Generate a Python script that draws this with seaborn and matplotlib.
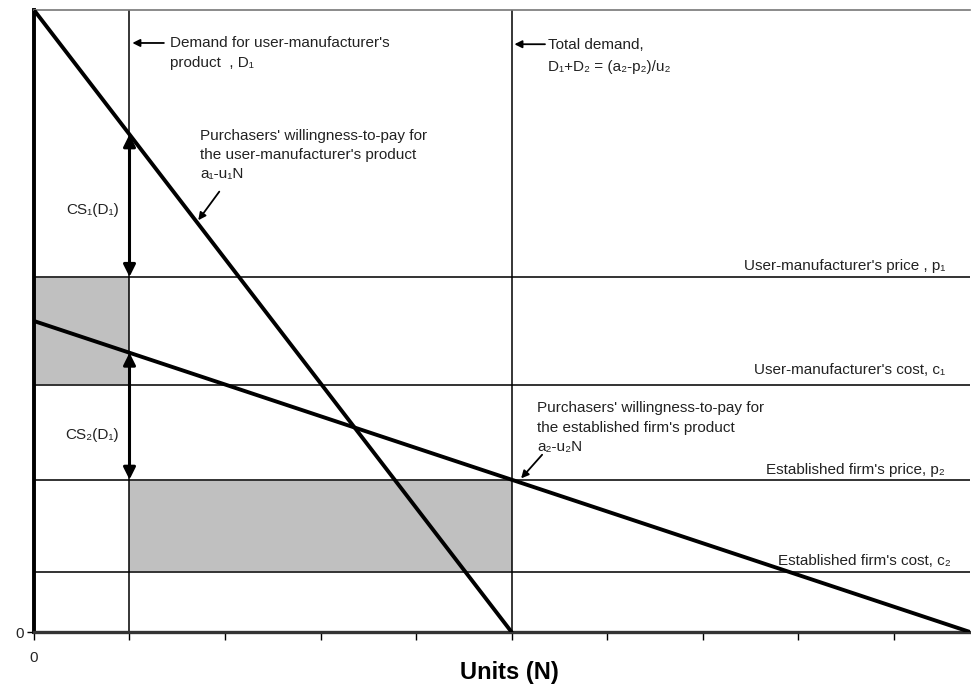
import pandas as pd
import matplotlib.pyplot as plt
import seaborn as sns

### Demand diagram: user-manufacturer vs established firm ###

# Willingness-to-pay lines (units N, price)
units_1 = [0, 5]
wtp_1 = [10, 0]          # a1 - u1*N
units_2 = [0, 9.8]
wtp_2 = [5, 0]           # a2 - u2*N

# Demand quantities
d1 = 1
d_total = 5

# Prices and costs
p1 = 5.71
c1 = 3.97
p2 = 2.45
c2 = 0.96

x_ticks = list(range(10))

sns.set_theme(style="white")
plt.rcParams['font.family'] = ['Liberation Sans', 'DejaVu Sans']

fig = plt.figure(figsize=(9.71, 6.86), dpi=100)
ax = fig.add_axes([0.035, 0.0787, 0.964, 0.9067])

df = pd.concat([
    pd.DataFrame({'units': units_1, 'wtp': wtp_1, 'product': 'user'}),
    pd.DataFrame({'units': units_2, 'wtp': wtp_2, 'product': 'established'}),
])

# shaded surplus areas
ax.fill_between([0, d1], c1, p1, color='#c0c0c0', lw=0, zorder=1)
ax.fill_between([d1, d_total], c2, p2, color='#c0c0c0', lw=0, zorder=1)

# price / cost levels
for level in [p1, c1, p2, c2]:
    ax.axhline(level, color='#333333', lw=1.4, zorder=2)

# demand verticals
for q in [d1, d_total]:
    ax.axvline(q, color='black', lw=1.1, zorder=2)

sns.lineplot(data=df, x='units', y='wtp', units='product', estimator=None,
             color='black', lw=2.8, ax=ax, zorder=3, legend=False)

# consumer surplus double arrows
wtp1_at_d1 = 10 - 2 * d1
wtp2_at_d1 = 5 - 5 / 9.8 * d1
dbl = dict(arrowstyle='<|-|>', lw=2.2, color='black', mutation_scale=18,
           shrinkA=0, shrinkB=0)
ax.annotate('', xy=(d1, p1), xytext=(d1, wtp1_at_d1), arrowprops=dbl, zorder=4)
ax.annotate('', xy=(d1, p2), xytext=(d1, wtp2_at_d1), arrowprops=dbl, zorder=4)

fs = 11
tc = '#222222'
ax.text(0.61, 6.78, 'CS₁(D₁)', ha='center', va='center', fontsize=fs, color=tc)
ax.text(0.61, 3.17, 'CS₂(D₁)', ha='center', va='center', fontsize=fs, color=tc)

ptr = dict(arrowstyle='-|>', lw=1.3, color='black', mutation_scale=11,
           shrinkA=0, shrinkB=0)
ax.annotate('', xy=(1.03, 9.47), xytext=(1.36, 9.47), arrowprops=ptr)
ax.text(1.42, 9.31, "Demand for user-manufacturer's\nproduct  , D₁",
        ha='left', va='center', fontsize=fs, color=tc, linespacing=1.58)

ax.annotate('', xy=(5.03, 9.45), xytext=(5.35, 9.45), arrowprops=ptr)
ax.text(5.38, 9.26, "Total demand,\nD₁+D₂ = (a₂-p₂)/u₂",
        ha='left', va='center', fontsize=fs, color=tc, linespacing=1.7)

ax.text(1.74, 7.67, "Purchasers' willingness-to-pay for\n"
        "the user-manufacturer's product\na₁-u₁N",
        ha='left', va='center', fontsize=fs, color=tc, linespacing=1.43)
ax.annotate('', xy=(1.72, 6.62), xytext=(1.94, 7.08), arrowprops=ptr)

ax.text(5.27, 3.28, "Purchasers' willingness-to-pay for\n"
        "the established firm's product\na₂-u₂N",
        ha='left', va='center', fontsize=fs, color=tc, linespacing=1.5)
ax.annotate('', xy=(5.1, 2.47), xytext=(5.32, 2.85), arrowprops=ptr)

# right-hand level labels
ax.text(9.54, p1 + 0.18, "User-manufacturer's price , p₁", ha='right',
        va='center', fontsize=fs, color=tc)
ax.text(9.54, c1 + 0.25, "User-manufacturer's cost, c₁", ha='right',
        va='center', fontsize=fs, color=tc)
ax.text(9.54, p2 + 0.16, "Established firm's price, p₂", ha='right',
        va='center', fontsize=fs, color=tc)
ax.text(9.6, c2 + 0.18, "Established firm's cost, c₂", ha='right',
        va='center', fontsize=fs, color=tc)

ax.set_xlim(0, 9.8)
ax.set_ylim(0, 10)
ax.set_xticks(x_ticks)
ax.set_xticklabels(['0'] + [''] * (len(x_ticks) - 1))
ax.set_yticks([0])
ax.set_yticklabels(['0'])
ax.tick_params(axis='x', direction='out', length=6, width=1, color='black',
               labelsize=fs, pad=8, bottom=True)
ax.tick_params(axis='y', direction='out', length=5, width=1, color='black',
               labelsize=fs, pad=2, left=True)
ax.set_xlabel('')
ax.set_ylabel('')

ax.spines['right'].set_visible(False)
ax.spines['top'].set_color('#777777')
ax.spines['top'].set_linewidth(1.2)
ax.spines['left'].set_color('black')
ax.spines['left'].set_linewidth(2.8)
ax.spines['bottom'].set_color('#333333')
ax.spines['bottom'].set_linewidth(2.4)

fig.text(0.525, 1 - 673 / 686, 'Units (N)', ha='center', va='center',
         fontsize=17, weight='bold', color='black')

plt.savefig('out.png', dpi=100)
plt.close()
